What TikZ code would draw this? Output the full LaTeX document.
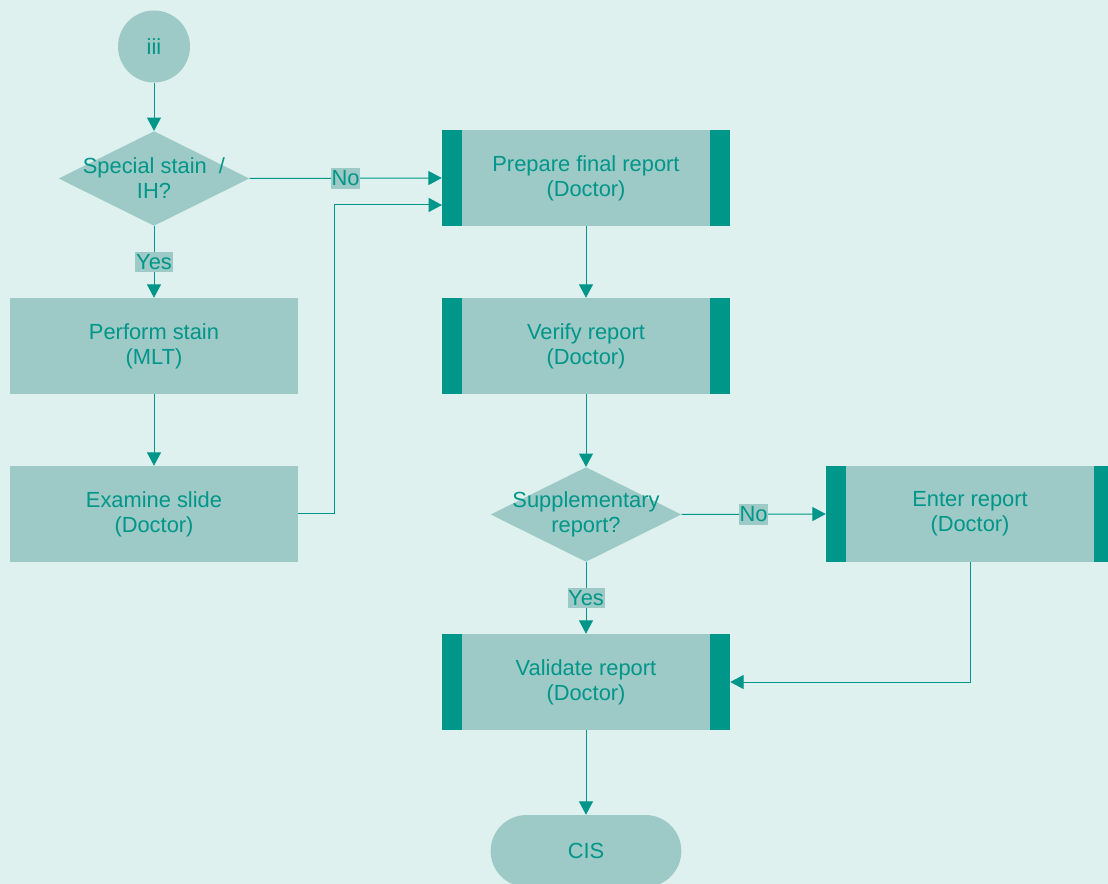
\documentclass[tikz,border=0pt]{standalone}
\usepackage{fontspec}
\setmainfont{Liberation Sans}
\usetikzlibrary{arrows.meta,shapes.geometric}
\definecolor{bgc}{HTML}{DEF1EE}
\definecolor{nodefill}{HTML}{9DC9C6}
\definecolor{teal}{HTML}{00968A}
\tikzset{
  every node/.style={text=teal,font=\fontsize{16.4}{18.75}\selectfont,align=center},
  proc/.style={rectangle,fill=nodefill,minimum width=216pt,minimum height=72pt,inner sep=0pt},
  sideproc/.style={proc,path picture={
      \fill[teal] (path picture bounding box.north west) rectangle ([xshift=15pt]path picture bounding box.south west);
      \fill[teal] (path picture bounding box.north east) rectangle ([xshift=-15pt]path picture bounding box.south east);}},
  dia/.style={diamond,fill=nodefill,minimum width=143pt,minimum height=71pt,inner sep=0pt},
  circ/.style={circle,fill=nodefill,minimum size=54pt,inner sep=0pt},
  term/.style={rectangle,rounded corners=27pt,fill=nodefill,minimum width=143pt,minimum height=54pt,inner sep=0pt},
  lbl/.style={fill=nodefill,inner xsep=0.5pt,inner ysep=2pt},
  arr/.style={draw=teal,line width=0.75pt,-{Triangle[width=10.5pt,length=10pt]}},
}
\begin{document}
\begin{tikzpicture}[x=0.75pt,y=-0.75pt]
\fill[bgc] (0,0) rectangle (1108,884);
\useasboundingbox (0,0) rectangle (1108,884);
\clip (0,0) rectangle (1108,884);
% nodes
\node[circ] (c0) at (154,46.5) {iii};
\node[dia] (d1) at (154,178.5) {};
\node (d1t) at (154,178.5) {Special stain\ \ /\\IH?};
\node[proc] (r1) at (154,346) {Perform stain\\(MLT)};
\node[proc] (r2) at (154,514) {Examine slide\\(Doctor)};
\node[sideproc] (p1) at (586,178) {Prepare final report\\(Doctor)};
\node[sideproc] (p2) at (586,346) {Verify report\\(Doctor)};
\node[dia] (d2) at (586,514.5) {};
\node (d2t) at (586,514.5) {Supplementary\\report?};
\node[sideproc] (p3) at (970,514) {Enter report\\(Doctor)};
\node[sideproc] (p4) at (586,682) {Validate report\\(Doctor)};
\node[term] (t) at (586,851) {CIS};
\coordinate (j1) at (442,205);
% connectors
\draw[arr] (c0) -- (d1);
\draw[arr] (d1.south) -- node[lbl] {Yes} (r1.north);
\draw[arr] (d1.east) -- node[lbl] {No} (p1.west);
\draw[arr] (r1) -- (r2);
\draw[arr] (r2.east) -- ++(36,0) |- (j1);
\draw[arr] (p1) -- (p2);
\draw[arr] (p2) -- (d2);
\draw[arr] (d2.east) -- node[lbl] {No} (p3.west);
\draw[arr] (d2.south) -- node[lbl] {Yes} (p4.north);
\draw[arr] (p3.south) |- (p4.east);
\draw[arr] (p4) -- (t);
\end{tikzpicture}
\end{document}
